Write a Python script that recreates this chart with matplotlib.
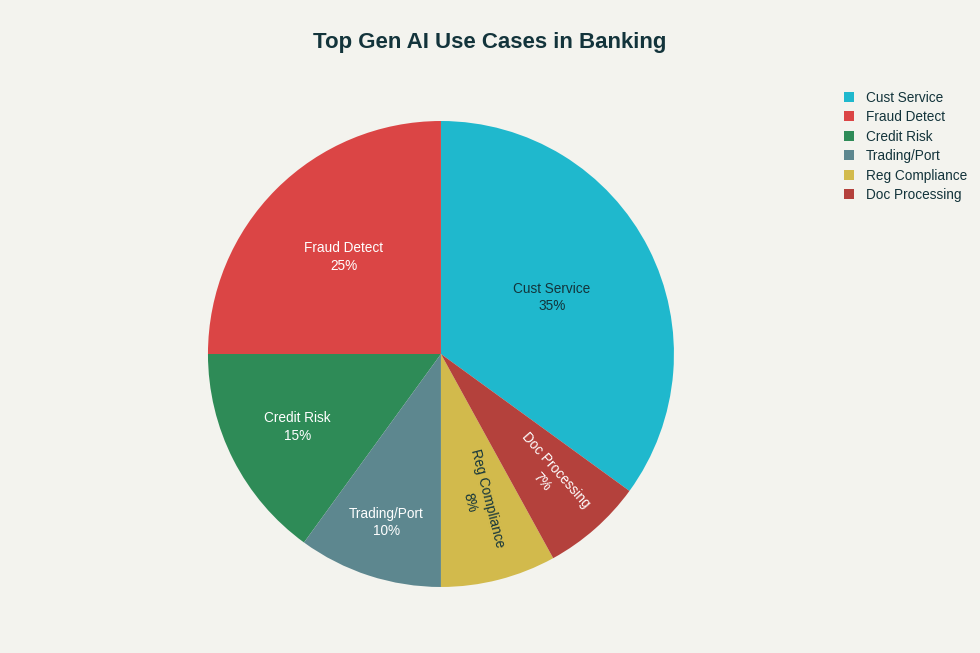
import matplotlib
matplotlib.use("Agg")
import matplotlib.pyplot as plt
from matplotlib.patches import Patch
import numpy as np

categories = ["Cust Service", "Fraud Detect", "Credit Risk", "Trading/Port", "Reg Compliance", "Doc Processing"]
values = [35, 25, 15, 10, 8, 7]
colors = ["#1FB8CD", "#DB4545", "#2E8B57", "#5D878F", "#D2BA4C", "#B4413C"]
text_colors = ["#13343B", "white", "white", "white", "#13343B", "white"]
label_radius = [0.535, 0.59, 0.69, 0.76, 0.65, 0.70]
rotate = [False, False, False, False, True, True]
title = "Top Gen AI Use Cases in Banking"

BG = "#F3F3EE"
plt.rcParams["font.family"] = ["Liberation Sans", "DejaVu Sans"]

fig = plt.figure(figsize=(9.8, 6.53), dpi=100, facecolor=BG)
ax = fig.add_axes([0.2122, 0.1011, 0.4755, 0.7136])
ax.set_facecolor(BG)
total = sum(values)
start = 90 - values[0] / total * 360
wedges, _ = ax.pie(values, colors=colors, startangle=start, counterclock=True,
                   radius=1.0, wedgeprops=dict(linewidth=0))
ax.set_xlim(-1, 1)
ax.set_ylim(-1, 1)
ax.set_aspect("equal")
ax.axis("off")

for w, cat, v, tc, rr, rot in zip(wedges, categories, values, text_colors, label_radius, rotate):
    ang = (w.theta1 + w.theta2) / 2
    x = rr * np.cos(np.radians(ang))
    y = rr * np.sin(np.radians(ang))
    r = 0
    if rot:
        r = ang - 360 if ang > 180 else ang
    ax.text(x, y, f"{cat}\n{v / total * 100:.0f}%", ha="center", va="center",
            color=tc, fontsize=9.85, rotation=r, rotation_mode="anchor", linespacing=1.33)

fig.text(0.5, 0.935, title, ha="center", va="center", fontsize=16, color="#13343B",
         fontweight="bold")

handles = [Patch(facecolor=c, edgecolor="none") for c in colors]
leg = fig.legend(handles, categories, loc="upper left", bbox_to_anchor=(0.861, 0.861),
                 frameon=False, fontsize=9.8, handlelength=0.75, handleheight=0.75,
                 handletextpad=0.9, labelspacing=0.4, borderaxespad=0, borderpad=0)
for t in leg.get_texts():
    t.set_color("#13343B")

fig.savefig("out.png", dpi=100, facecolor=BG)
